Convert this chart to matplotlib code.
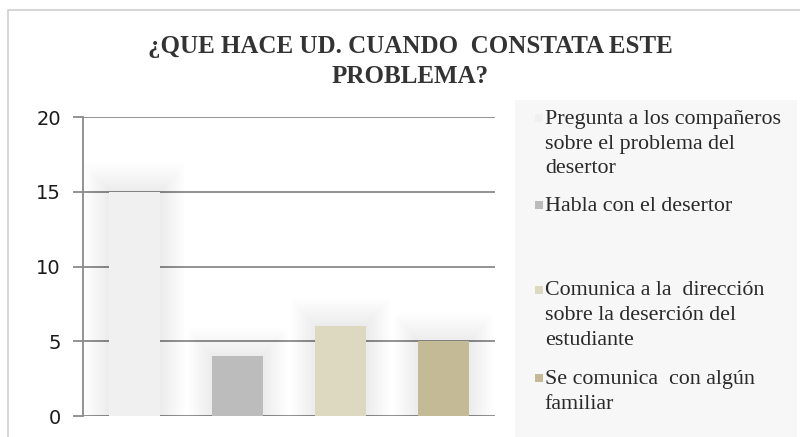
import matplotlib.pyplot as plt
from matplotlib.patches import Rectangle

# Data
categories = ['Pregunta a los compañeros\nsobre el problema del\ndesertor',
              'Habla con el desertor',
              'Comunica a la  dirección\nsobre la deserción del\nestudiante',
              'Se comunica  con algún\nfamiliar']
values = [15, 4, 6, 5]
colors = ['#f0f0f0', '#bcbcbc', '#ddd8c0', '#c4bb96']
yticks = [0, 5, 10, 15, 20]
title = '¿QUE HACE UD. CUANDO  CONSTATA ESTE\nPROBLEMA?'

fig = plt.figure(figsize=(8, 4.37), dpi=100)

# outer chart border
fig.patches.append(Rectangle((0.01, -0.1), 1.1, 1.077, transform=fig.transFigure,
                             fill=False, edgecolor='#d0d0d0', linewidth=1.2, zorder=0))
# legend panel background
fig.patches.append(Rectangle((0.644, 0.0), 0.352, 0.771, transform=fig.transFigure,
                             facecolor='#f7f7f7', edgecolor='none', zorder=0))

ax = fig.add_axes([0.104, 0.048, 0.515, 0.684])
x = list(range(len(values)))

# soft glow around bars
for k in range(20):
    ax.bar(x, [v + 0.1 * k for v in values], width=0.5 + 0.025 * k,
           color='#000000', alpha=0.0035, zorder=1, linewidth=0)
ax.bar(x, values, width=0.5, color=colors, zorder=3, linewidth=0)

ax.set_xlim(-0.5, 3.5)
ax.set_ylim(0, 20)
ax.set_yticks(yticks)
ax.yaxis.grid(True, color='#8a8a8a', linewidth=1.3, zorder=0)
ax.set_axisbelow(True)
ax.set_xticks([])
for s in ['top', 'right', 'bottom']:
    ax.spines[s].set_visible(False)
ax.spines['left'].set_color('#8a8a8a')
ax.spines['left'].set_linewidth(1.3)
ax.tick_params(axis='y', length=7, width=1.3, color='#8a8a8a', pad=9,
               labelsize=14, labelcolor='#1a1a1a')
ax.set_facecolor('none')

fig.text(0.5125, 0.86, title, ha='center', va='center', family='Liberation Serif',
         fontweight='bold', fontsize=18, color='#333333', linespacing=1.4)

# legend drawn by hand
leg_sq = [0.730, 0.531, 0.336, 0.135]
leg_txt = [0.749, 0.550, 0.356, 0.154]
for label, c, sy, ty in zip(categories, colors, leg_sq, leg_txt):
    fig.patches.append(Rectangle((0.669, sy - 0.009), 0.010, 0.018, transform=fig.transFigure,
                                 facecolor=c, edgecolor='none'))
    fig.text(0.681, ty, label, ha='left', va='top', family='Liberation Serif',
             fontsize=15.8, color='#2a2a2a', linespacing=1.42)

fig.savefig('out.png', dpi=100)
